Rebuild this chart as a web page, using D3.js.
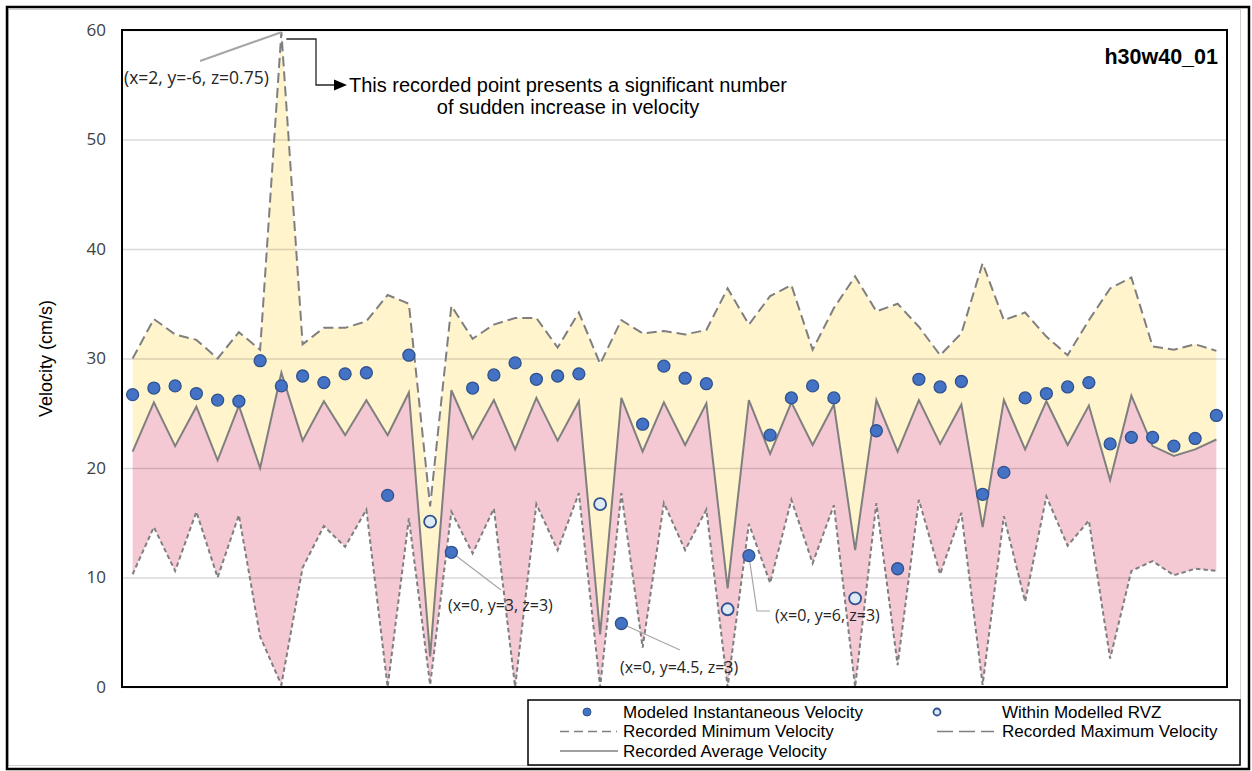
<!DOCTYPE html>
<html>
<head>
<meta charset="utf-8">
<script src="https://cdn.jsdelivr.net/npm/d3@7"></script>
<style>
  html, body { margin: 0; padding: 0; background: #fff; }
  svg { display: block; }
</style>
</head>
<body>
<script>
// Recording points along the measurement traverse
const samples = [
   1,  2,  3,  4,  5,  6,  7,  8,  9, 10, 11, 12, 13,
  14, 15, 16, 17, 18, 19, 20, 21, 22, 23, 24, 25, 26,
  27, 28, 29, 30, 31, 32, 33, 34, 35, 36, 37, 38, 39,
  40, 41, 42, 43, 44, 45, 46, 47, 48, 49, 50, 51, 52
];

// Recorded maximum velocity (cm/s)
const maxVelocity = [
  30.0, 33.6, 32.2, 31.7, 30.0, 32.4, 30.8, 59.8, 31.3, 32.8, 32.8, 33.4, 35.8,
  35.0, 16.5, 34.8, 31.8, 33.1, 33.7, 33.7, 31.0, 34.2, 29.5, 33.5, 32.3, 32.5,
  32.2, 32.6, 36.4, 33.1, 35.7, 36.7, 30.8, 34.6, 37.5, 34.3, 35.0, 32.9, 30.3,
  32.3, 38.7, 33.5, 34.2, 32.0, 30.3, 33.5, 36.4, 37.4, 31.1, 30.8, 31.3, 30.7
];

// Recorded average velocity (cm/s)
const avgVelocity = [
  21.5, 26.0, 22.0, 25.6, 20.7, 25.7, 20.0, 28.7, 22.5, 26.1, 23.0, 26.2, 23.0,
  26.9,  2.8, 27.1, 22.7, 26.2, 21.7, 26.4, 22.5, 26.1,  4.8, 26.4, 21.5, 26.0,
  22.1, 25.9,  9.0, 26.2, 21.3, 26.0, 22.1, 25.8, 12.5, 26.2, 21.5, 26.2, 22.2,
  25.8, 14.6, 26.2, 21.7, 26.1, 22.1, 25.7, 18.9, 26.6, 22.0, 21.1, 21.7, 22.6
];

// Recorded minimum velocity (cm/s)
const minVelocity = [
  10.3, 14.6, 10.6, 16.0, 10.0, 15.7,  4.6,  0.2, 10.9, 14.7, 12.8, 16.2,  0.0,
  15.4,  0.2, 16.0, 12.2, 16.3,  0.0, 16.7, 12.5, 17.7,  0.0, 17.7,  3.6, 16.8,
  12.5, 16.2,  0.0, 14.9,  9.5, 17.1, 11.3, 16.6,  0.0, 16.8,  2.0, 17.1, 10.3,
  15.9,  0.2, 15.6,  7.8, 17.4, 12.9, 15.2,  2.6, 10.6, 11.5, 10.2, 10.8, 10.6
];

// Modeled instantaneous velocity (cm/s); null where the point lies within the RVZ
const modeledVelocity = [
  26.7, 27.3, 27.5, 26.8, 26.2, 26.1, 29.8, 27.5, 28.4, 27.8, 28.6, 28.7, 17.5,
  30.3, null, 12.3, 27.3, 28.5, 29.6, 28.1, 28.4, 28.6, null,  5.8, 24.0, 29.3,
  28.2, 27.7, null, 12.0, 23.0, 26.4, 27.5, 26.4, null, 23.4, 10.8, 28.1, 27.4,
  27.9, 17.6, 19.6, 26.4, 26.8, 27.4, 27.8, 22.2, 22.8, 22.8, 22.0, 22.7, 24.8
];

// Modeled velocity at points within the modelled RVZ (cm/s)
const rvzVelocity = [
  null, null, null, null, null, null, null, null, null, null, null, null, null,
  null, 15.1, null, null, null, null, null, null, null, 16.7, null, null, null,
  null, null,  7.1, null, null, null, null, null,  8.1, null, null, null, null,
  null, null, null, null, null, null, null, null, null, null, null, null, null
];

const yTicks = [0, 10, 20, 30, 40, 50, 60];

const W = 1252, H = 771;
const plot = { left: 122, right: 1227, top: 30, bottom: 687 };

const rows = samples.map((s, i) => ({
  s, max: maxVelocity[i], avg: avgVelocity[i], min: minVelocity[i],
  modeled: modeledVelocity[i], rvz: rvzVelocity[i]
}));

const x = d3.scaleBand().domain(samples).range([plot.left, plot.right]).padding(0);
const cx = s => x(s) + x.bandwidth() / 2;
const y = d3.scaleLinear().domain([0, 60]).range([plot.bottom, plot.top]);

const svg = d3.select("body").append("svg").attr("width", W).attr("height", H);

// outer frame and chart area border
svg.append("rect").attr("x", 8.5).attr("y", 9.5).attr("width", 1232).attr("height", 756)
  .attr("fill", "none").attr("stroke", "#d0d0d0").attr("stroke-width", 1);
svg.append("rect").attr("x", 7).attr("y", 7).attr("width", 1242).attr("height", 762)
  .attr("fill", "none").attr("stroke", "#000").attr("stroke-width", 2.5);

// bands: average→maximum (yellow), minimum→average (pink)
svg.append("path").datum(rows)
  .attr("fill", "#fff4cc")
  .attr("d", d3.area().x(d => cx(d.s)).y0(d => y(d.avg)).y1(d => y(d.max)));
svg.append("path").datum(rows)
  .attr("fill", "#f5c9d4")
  .attr("d", d3.area().x(d => cx(d.s)).y0(d => y(d.min)).y1(d => y(d.avg)));

// horizontal gridlines
svg.append("g")
  .attr("transform", `translate(${plot.left},0)`)
  .call(d3.axisLeft(y).tickValues(yTicks).tickSize(-(plot.right - plot.left)).tickFormat(""))
  .call(g => g.select(".domain").remove())
  .call(g => g.selectAll("line").attr("stroke", "#000").attr("stroke-opacity", 0.15).attr("stroke-width", 1.5));

// y axis labels
svg.append("g")
  .attr("transform", `translate(${plot.left},0)`)
  .call(d3.axisLeft(y).tickValues(yTicks).tickSize(0).tickPadding(16))
  .call(g => g.select(".domain").remove())
  .call(g => g.selectAll("text")
    .attr("font-family", "'Open Sans', sans-serif").attr("font-size", 17).attr("fill", "#404040"));

svg.append("text")
  .attr("transform", `translate(47,${(plot.top + plot.bottom) / 2}) rotate(-90)`)
  .attr("text-anchor", "middle").attr("dominant-baseline", "middle")
  .attr("font-family", "'Liberation Sans', Arial, sans-serif").attr("font-size", 18).attr("fill", "#000")
  .text("Velocity (cm/s)");

// recorded lines
const lineGen = key => d3.line().x(d => cx(d.s)).y(d => y(d[key]));
svg.append("path").datum(rows).attr("fill", "none").attr("stroke", "#7f7f7f")
  .attr("stroke-width", 2).attr("stroke-dasharray", "10,5").attr("d", lineGen("max"));
svg.append("path").datum(rows).attr("fill", "none").attr("stroke", "#7f7f7f")
  .attr("stroke-width", 2).attr("d", lineGen("avg"));
svg.append("path").datum(rows).attr("fill", "none").attr("stroke", "#7f7f7f")
  .attr("stroke-width", 2).attr("stroke-dasharray", "4.5,3").attr("d", lineGen("min"));

// annotation leader lines
const gAnn = svg.append("g");
const peak = rows[7];
gAnn.append("line")
  .attr("x1", 200).attr("y1", 61).attr("x2", cx(peak.s)).attr("y2", y(peak.max))
  .attr("stroke", "#a6a6a6").attr("stroke-width", 2);
const d15 = rows[15], d23 = rows[23], d29 = rows[29];
gAnn.append("line").attr("x1", cx(d15.s)).attr("y1", y(d15.modeled)).attr("x2", 501).attr("y2", 590)
  .attr("stroke", "#a6a6a6").attr("stroke-width", 1.2);
gAnn.append("line").attr("x1", cx(d23.s)).attr("y1", y(d23.modeled)).attr("x2", 680).attr("y2", 650)
  .attr("stroke", "#a6a6a6").attr("stroke-width", 1.2);
gAnn.append("polyline")
  .attr("points", `${cx(d29.s)},${y(d29.modeled)} 757,611 770,611`)
  .attr("fill", "none").attr("stroke", "#a6a6a6").attr("stroke-width", 1.2);

// modeled points
svg.append("g").selectAll("circle").data(rows.filter(d => d.modeled != null)).join("circle")
  .attr("cx", d => cx(d.s)).attr("cy", d => y(d.modeled)).attr("r", 6)
  .attr("fill", "#4472c4").attr("stroke", "#2f528f").attr("stroke-width", 1.3);
svg.append("g").selectAll("circle").data(rows.filter(d => d.rvz != null)).join("circle")
  .attr("cx", d => cx(d.s)).attr("cy", d => y(d.rvz)).attr("r", 6)
  .attr("fill", "#deebf7").attr("stroke", "#2f528f").attr("stroke-width", 1.8);

// plot area border
svg.append("rect").attr("x", plot.left).attr("y", plot.top)
  .attr("width", plot.right - plot.left).attr("height", plot.bottom - plot.top)
  .attr("fill", "none").attr("stroke", "#000").attr("stroke-width", 2);

// callout bracket with arrow
const bx0 = cx(peak.s) + 5;
gAnn.append("polyline")
  .attr("points", `${bx0},39 316,39 316,85 336,85`)
  .attr("fill", "none").attr("stroke", "#262626").attr("stroke-width", 1.3);
gAnn.append("path").attr("d", "M334,79.5 L347,85 L334,90.5 Z").attr("fill", "#000");

const annFont = "'Open Sans', sans-serif";
gAnn.append("text").attr("x", 124).attr("y", 84)
  .attr("font-family", annFont).attr("font-size", 17.5).attr("fill", "#262626")
  .text("(x=2, y=-6, z=0.75)");
gAnn.append("text").attr("x", 448).attr("y", 611)
  .attr("font-family", annFont).attr("font-size", 16).attr("fill", "#262626")
  .text("(x=0, y=3, z=3)");
gAnn.append("text").attr("x", 620).attr("y", 673)
  .attr("font-family", annFont).attr("font-size", 16).attr("fill", "#262626")
  .text("(x=0, y=4.5, z=3)");
gAnn.append("text").attr("x", 775).attr("y", 621)
  .attr("font-family", annFont).attr("font-size", 16).attr("fill", "#262626")
  .text("(x=0, y=6, z=3)");

const noteFont = "'Liberation Sans', Arial, sans-serif";
gAnn.append("text").attr("x", 568).attr("y", 92).attr("text-anchor", "middle")
  .attr("font-family", noteFont).attr("font-size", 20).attr("fill", "#000")
  .text("This recorded point presents a significant number");
gAnn.append("text").attr("x", 568).attr("y", 114).attr("text-anchor", "middle")
  .attr("font-family", noteFont).attr("font-size", 20).attr("fill", "#000")
  .text("of sudden increase in velocity");

svg.append("text").attr("x", 1218).attr("y", 64).attr("text-anchor", "end")
  .attr("font-family", noteFont).attr("font-size", 21.5).attr("font-weight", "bold").attr("fill", "#000")
  .text("h30w40_01");

// legend
const lg = svg.append("g");
lg.append("rect").attr("x", 528).attr("y", 700).attr("width", 712).attr("height", 65)
  .attr("fill", "#fff").attr("stroke", "#000").attr("stroke-width", 1.5);
const legFont = { family: noteFont, size: 17 };
const legendItems = [
  { label: "Modeled Instantaneous Velocity", kind: "dot", x: 587, tx: 623, y: 712 },
  { label: "Within Modelled RVZ", kind: "hollow", x: 937, tx: 1002, y: 712 },
  { label: "Recorded Minimum Velocity", kind: "short", x: 560, tx: 623, y: 731.5 },
  { label: "Recorded Maximum Velocity", kind: "long", x: 937, tx: 1002, y: 731.5 },
  { label: "Recorded Average Velocity", kind: "solid", x: 560, tx: 623, y: 751 }
];
legendItems.forEach(it => {
  if (it.kind === "dot") {
    lg.append("circle").attr("cx", it.x).attr("cy", it.y).attr("r", 4)
      .attr("fill", "#4472c4").attr("stroke", "#2f528f").attr("stroke-width", 1);
  } else if (it.kind === "hollow") {
    lg.append("circle").attr("cx", it.x).attr("cy", it.y).attr("r", 3.5)
      .attr("fill", "#deebf7").attr("stroke", "#2f528f").attr("stroke-width", 1.8);
  } else {
    const len = it.kind === "solid" ? 58 : 57;
    lg.append("line").attr("x1", it.x).attr("x2", it.x + len).attr("y1", it.y).attr("y2", it.y)
      .attr("stroke", "#7f7f7f").attr("stroke-width", 1.6)
      .attr("stroke-dasharray", it.kind === "short" ? "9,5" : it.kind === "long" ? "16,6" : null);
  }
  lg.append("text").attr("x", it.tx).attr("y", it.y).attr("dominant-baseline", "central")
    .attr("font-family", legFont.family).attr("font-size", legFont.size).attr("fill", "#000")
    .text(it.label);
});
</script>
</body>
</html>
